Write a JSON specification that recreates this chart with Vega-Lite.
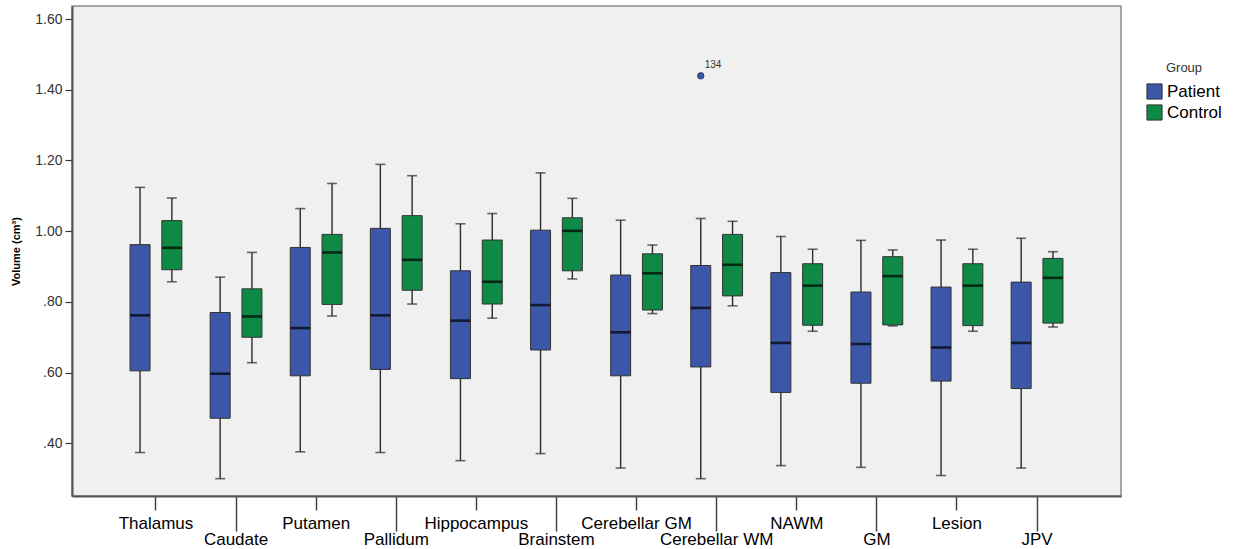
{
  "$schema": "https://vega.github.io/schema/vega-lite/v6.json",
  "autosize": "none",
  "width": 1049,
  "height": 490,
  "padding": {"left": 72, "top": 6, "right": 114, "bottom": 53},
  "background": "#ffffff",
  "config": {
    "font": "Liberation Sans",
    "view": {"fill": "#f0f0f0", "stroke": "#8a8a8a", "strokeWidth": 1.5}
  },
  "datasets": {
    "boxes": [
      {"region": "Thalamus", "group": "Patient", "lo": 0.374, "q1": 0.605, "med": 0.762, "q3": 0.962, "hi": 1.124},
      {"region": "Thalamus", "group": "Control", "lo": 0.857, "q1": 0.891, "med": 0.953, "q3": 1.030, "hi": 1.094},
      {"region": "Caudate", "group": "Patient", "lo": 0.300, "q1": 0.471, "med": 0.597, "q3": 0.770, "hi": 0.870},
      {"region": "Caudate", "group": "Control", "lo": 0.628, "q1": 0.700, "med": 0.759, "q3": 0.837, "hi": 0.940},
      {"region": "Putamen", "group": "Patient", "lo": 0.376, "q1": 0.591, "med": 0.726, "q3": 0.954, "hi": 1.064},
      {"region": "Putamen", "group": "Control", "lo": 0.760, "q1": 0.793, "med": 0.940, "q3": 0.991, "hi": 1.135},
      {"region": "Pallidum", "group": "Patient", "lo": 0.374, "q1": 0.609, "med": 0.762, "q3": 1.008, "hi": 1.189},
      {"region": "Pallidum", "group": "Control", "lo": 0.794, "q1": 0.833, "med": 0.919, "q3": 1.044, "hi": 1.157},
      {"region": "Hippocampus", "group": "Patient", "lo": 0.351, "q1": 0.583, "med": 0.747, "q3": 0.888, "hi": 1.021},
      {"region": "Hippocampus", "group": "Control", "lo": 0.754, "q1": 0.794, "med": 0.857, "q3": 0.975, "hi": 1.050},
      {"region": "Brainstem", "group": "Patient", "lo": 0.371, "q1": 0.664, "med": 0.791, "q3": 1.003, "hi": 1.165},
      {"region": "Brainstem", "group": "Control", "lo": 0.865, "q1": 0.888, "med": 1.001, "q3": 1.038, "hi": 1.093},
      {"region": "Cerebellar GM", "group": "Patient", "lo": 0.330, "q1": 0.591, "med": 0.714, "q3": 0.876, "hi": 1.031},
      {"region": "Cerebellar GM", "group": "Control", "lo": 0.767, "q1": 0.777, "med": 0.881, "q3": 0.936, "hi": 0.961},
      {"region": "Cerebellar WM", "group": "Patient", "lo": 0.300, "q1": 0.616, "med": 0.783, "q3": 0.903, "hi": 1.036},
      {"region": "Cerebellar WM", "group": "Control", "lo": 0.789, "q1": 0.817, "med": 0.905, "q3": 0.991, "hi": 1.028},
      {"region": "NAWM", "group": "Patient", "lo": 0.337, "q1": 0.544, "med": 0.684, "q3": 0.883, "hi": 0.985},
      {"region": "NAWM", "group": "Control", "lo": 0.717, "q1": 0.734, "med": 0.846, "q3": 0.908, "hi": 0.949},
      {"region": "GM", "group": "Patient", "lo": 0.332, "q1": 0.570, "med": 0.681, "q3": 0.828, "hi": 0.974},
      {"region": "GM", "group": "Control", "lo": 0.732, "q1": 0.735, "med": 0.873, "q3": 0.928, "hi": 0.947},
      {"region": "Lesion", "group": "Patient", "lo": 0.309, "q1": 0.576, "med": 0.671, "q3": 0.842, "hi": 0.975},
      {"region": "Lesion", "group": "Control", "lo": 0.717, "q1": 0.733, "med": 0.846, "q3": 0.908, "hi": 0.949},
      {"region": "JPV", "group": "Patient", "lo": 0.330, "q1": 0.555, "med": 0.684, "q3": 0.856, "hi": 0.980},
      {"region": "JPV", "group": "Control", "lo": 0.729, "q1": 0.740, "med": 0.868, "q3": 0.923, "hi": 0.942}
    ],
    "outliers": [
      {"region": "Cerebellar WM", "group": "Patient", "value": 1.4395, "case": "134"}
    ]
  },
  "data": {"name": "boxes"},
  "encoding": {
    "x": {
      "field": "region",
      "type": "nominal",
      "sort": ["Thalamus", "Caudate", "Putamen", "Pallidum", "Hippocampus", "Brainstem", "Cerebellar GM", "Cerebellar WM", "NAWM", "GM", "Lesion", "JPV"],
      "scale": {"paddingInner": 0, "paddingOuter": 0.548},
      "axis": {
        "title": null,
        "orient": "bottom",
        "bandPosition": 0.5,
        "labelAngle": 0,
        "labelOverlap": false,
        "labelBound": false,
        "labelFlush": false,
        "labelFontSize": 17,
        "labelColor": "#000000",
        "labelPadding": {
          "condition": {"test": "indexof(['Caudate','Pallidum','Brainstem','Cerebellar WM','GM','JPV'], datum.value) >= 0", "value": 0},
          "value": 5
        },
        "tickSize": {
          "condition": {"test": "indexof(['Caudate','Pallidum','Brainstem','Cerebellar WM','GM','JPV'], datum.value) >= 0", "value": 35},
          "value": 14
        },
        "tickColor": "#444444",
        "tickWidth": 1.5,
        "domainColor": "#555555",
        "domainWidth": 2
      }
    },
    "xOffset": {
      "field": "group",
      "type": "nominal",
      "scale": {"domain": ["Patient", "Control"], "paddingInner": 0.371, "paddingOuter": 0.445}
    }
  },
  "layer": [
    {
      "mark": {"type": "rule", "color": "#2b2b2b", "strokeWidth": 1.4},
      "encoding": {
        "y": {
          "field": "lo",
          "type": "quantitative",
          "scale": {"domain": [0.251, 1.637], "nice": false, "zero": false},
          "axis": {
            "title": "Volume (cm³)",
            "titleFontSize": 11,
            "titleFontWeight": "bold",
            "titleColor": "#000000",
            "titleX": -51,
            "titleY": 245,
            "values": [0.4, 0.6, 0.8, 1.0, 1.2, 1.4, 1.6],
            "labelExpr": "datum.value < 1 ? replace(format(datum.value, '.2f'), '0.', '.') : format(datum.value, '.2f')",
            "labelFontSize": 14,
            "labelColor": "#333333",
            "labelPadding": 3,
            "tickSize": 7,
            "tickColor": "#333333",
            "tickWidth": 1.2,
            "domainColor": "#555555",
            "domainWidth": 2,
            "grid": false
          }
        },
        "y2": {"field": "hi"}
      }
    },
    {
      "mark": {"type": "tick", "color": "#2b2b2b", "size": 10, "thickness": 1.6},
      "encoding": {"y": {"field": "lo", "type": "quantitative"}}
    },
    {
      "mark": {"type": "tick", "color": "#2b2b2b", "size": 10, "thickness": 1.6},
      "encoding": {"y": {"field": "hi", "type": "quantitative"}}
    },
    {
      "mark": {"type": "bar", "stroke": "#333333", "strokeWidth": 1, "opacity": 1},
      "encoding": {
        "y": {"field": "q1", "type": "quantitative"},
        "y2": {"field": "q3"},
        "fill": {
          "field": "group",
          "type": "nominal",
          "scale": {"domain": ["Patient", "Control"], "range": ["#3c56a8", "#0e8a46"]},
          "legend": {
            "title": "Group",
            "orient": "none",
            "legendX": 1074,
            "legendY": 56,
            "titleFontSize": 13,
            "titleFontWeight": "normal",
            "titleColor": "#333333",
            "titleAnchor": "middle",
            "titlePadding": 8,
            "symbolType": "square",
            "symbolSize": 230,
            "symbolStrokeColor": "#333333",
            "symbolStrokeWidth": 1,
            "symbolOpacity": 1,
            "labelFontSize": 17,
            "labelColor": "#000000",
            "labelOffset": 4,
            "rowPadding": 0
          }
        }
      }
    },
    {
      "mark": {"type": "tick", "color": "#000000", "size": 20, "thickness": 2.6},
      "encoding": {"y": {"field": "med", "type": "quantitative"}}
    },
    {
      "data": {"name": "outliers"},
      "mark": {"type": "point", "filled": true, "fill": "#3c56a8", "stroke": "#2b2b55", "strokeWidth": 0.8, "size": 42, "opacity": 1},
      "encoding": {"y": {"field": "value", "type": "quantitative"}}
    },
    {
      "data": {"name": "outliers"},
      "mark": {"type": "text", "align": "left", "dx": 4, "dy": -11, "fontSize": 10, "color": "#333333"},
      "encoding": {
        "y": {"field": "value", "type": "quantitative"},
        "text": {"field": "case"}
      }
    }
  ]
}
